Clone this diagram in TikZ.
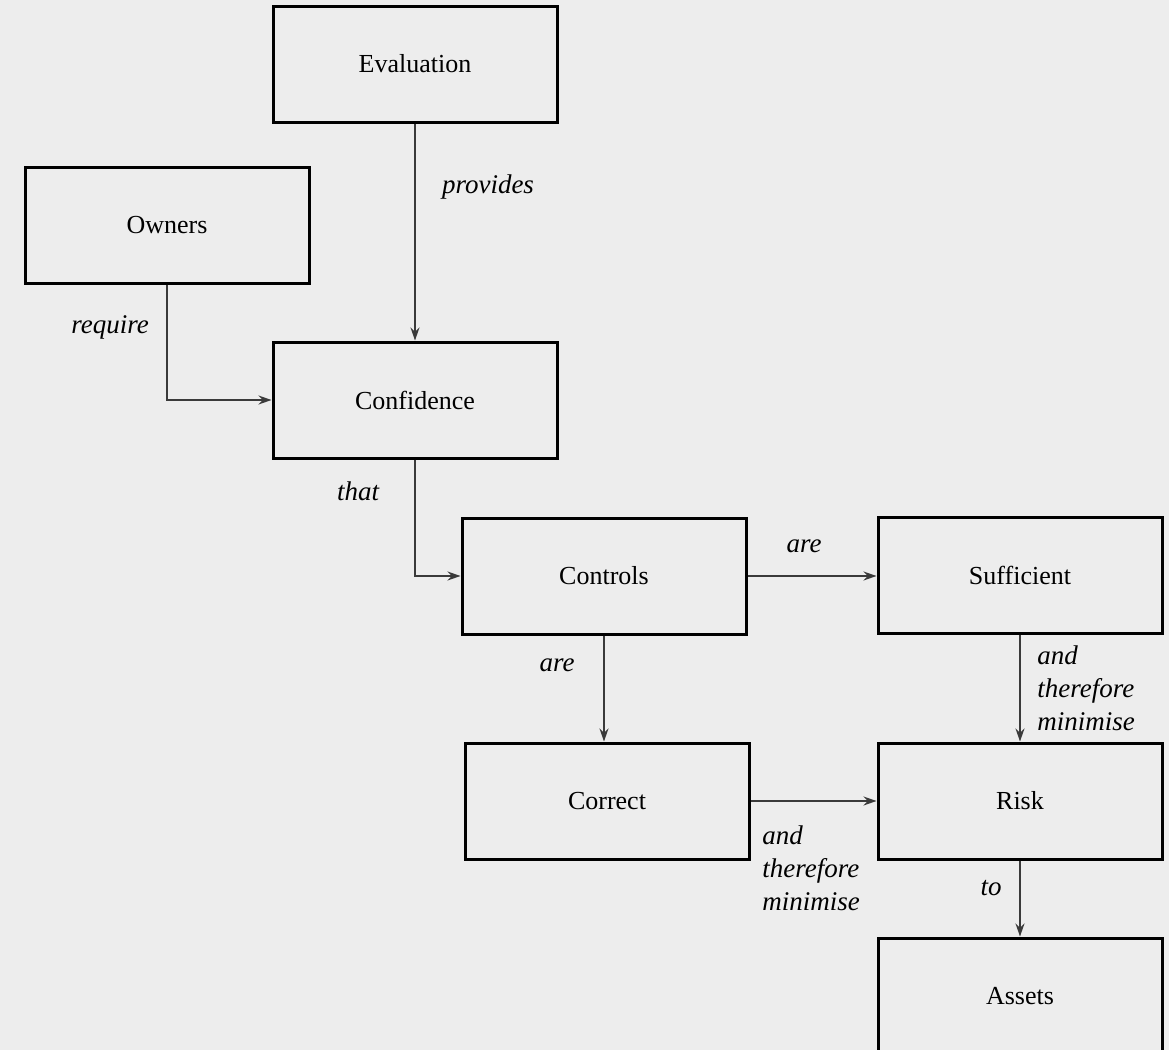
\documentclass[tikz,border=0pt]{standalone}
\usepackage{fontspec}
\setmainfont{Liberation Serif}
\usetikzlibrary{arrows.meta}
\definecolor{paper}{HTML}{EDEDED}
\definecolor{wire}{HTML}{3A3A3A}
\tikzset{
  box/.style={draw=black, line width=1.5pt, minimum width=142pt, minimum height=58pt,
              inner sep=0pt, font=\fontsize{13}{16.5}\selectfont},
  link/.style={draw=wire, line width=0.7pt, -{Stealth[length=6.5pt,width=4.5pt]}},
  lbl/.style={inner sep=0pt, font=\fontsize{13.5}{16.5}\selectfont\itshape},
  lblleft/.style={lbl, anchor=west, align=left},
}
\begin{document}
\begin{tikzpicture}[x=0.5pt, y=-0.5pt]
  % page area
  \fill[paper] (0,0) rectangle (1169,1050);
  \useasboundingbox (0,0) rectangle (1169,1050);

  % boxes
  \node[box] (eval)   at (415,64)   {Evaluation};
  \node[box] (owners) at (167,225)  {Owners};
  \node[box] (conf)   at (415,400)  {Confidence};
  \node[box] (ctrl)   at (604,576)  {Controls};
  \node[box] (suff)   at (1020,575) {Sufficient};
  \node[box] (corr)   at (607,801)  {Correct};
  \node[box] (risk)   at (1020,801) {Risk};
  \node[box] (assets) at (1020,996) {Assets};

  % connectors
  \draw[link] (eval.south) -- (conf.north);
  \draw[link] (owners.south) |- (conf.west);
  \draw[link] (conf.south) |- (ctrl.west);
  \draw[link] (ctrl.east) -- (suff.west |- ctrl.east);
  \draw[link] (ctrl.south) -- (ctrl.south |- corr.north);
  \draw[link] (corr.east) -- (corr.east -| risk.west);
  \draw[link] (suff.south) -- (risk.north);
  \draw[link] (risk.south) -- (assets.north);

  % connector labels
  \node[lbl] (lprovides) at (488,187) {provides};
  \node[lbl] (lrequire)  at (110,327) {require};
  \node[lbl] (lthat)     at (358,491) {that};
  \node[lbl] (lare1)     at (804,546) {are};
  \node[lbl] (lare2)     at (557,665) {are};
  \node[lblleft] (lmin1) at (1037,688) {and\\therefore\\minimise};
  \node[lblleft] (lmin2) at (762,868)  {and\\therefore\\minimise};
  \node[lbl] (lto)       at (991,888)  {to};
\end{tikzpicture}
\end{document}
